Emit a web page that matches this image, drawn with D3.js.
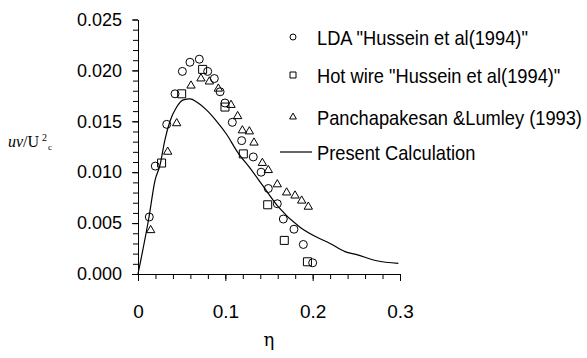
<!DOCTYPE html>
<html>
<head>
<meta charset="utf-8">
<script src="https://cdn.jsdelivr.net/npm/d3@7"></script>
<style>
    body { margin: 0; background: #fff; }
    .tick-text { font-family: "Liberation Sans", Arial, sans-serif; fill: #000; }
    .legend-text { font-family: "Liberation Sans", Arial, sans-serif; font-size: 21px; fill: #000; }
</style>
</head>
<body>
<div id="chart"></div>
<script>
// LDA "Hussein et al(1994)" - circles
const ldaEta = [0.0129, 0.0198, 0.0329, 0.0424, 0.0508, 0.0595, 0.0702, 0.0798, 0.0874, 0.094, 0.0996,
    0.108, 0.1187, 0.132, 0.141, 0.1492, 0.1595, 0.1664, 0.1786, 0.1893, 0.200];
const ldaUv = [0.0056, 0.0106, 0.0147, 0.0177, 0.0199, 0.0208, 0.0211, 0.0199, 0.0192, 0.0179, 0.0168,
    0.0149, 0.0131, 0.0115, 0.0100, 0.0084, 0.0069, 0.0054, 0.0044, 0.0029, 0.0011];

// Hot wire "Hussein et al(1994)" - squares
const hotEta = [0.027, 0.050, 0.074, 0.0996, 0.1206, 0.1485, 0.1675, 0.194];
const hotUv = [0.0109, 0.0177, 0.0201, 0.0164, 0.0118, 0.0068, 0.0033, 0.0012];

// Panchapakesan & Lumley (1993) - triangles
const plEta = [0.0145, 0.034, 0.0443, 0.0607, 0.0721, 0.0817, 0.092, 0.1065, 0.1141, 0.1195, 0.1275,
    0.1328, 0.1424, 0.1492, 0.1595, 0.1702, 0.1798, 0.1874, 0.195];
const plUv = [0.0043, 0.0120, 0.0148, 0.0185, 0.0192, 0.0189, 0.0182, 0.0166, 0.0155, 0.0141, 0.0140,
    0.0129, 0.0109, 0.0102, 0.0088, 0.0080, 0.0077, 0.0072, 0.0066];

// Present Calculation - line
const calcEta = [0, 0.0126, 0.0195, 0.0252, 0.0309, 0.0366, 0.0443, 0.0519, 0.0595, 0.0672, 0.0786,
    0.0901, 0.1016, 0.113, 0.130, 0.1435, 0.1607, 0.1855, 0.2027, 0.2199, 0.237, 0.2504, 0.2733, 0.2981];
const calcUv = [0, 0.0056, 0.0092, 0.0107, 0.0132, 0.0150, 0.0164, 0.0171, 0.0172, 0.0169, 0.0161,
    0.0150, 0.0137, 0.0121, 0.0102, 0.0086, 0.0066, 0.0046, 0.0037, 0.0030, 0.0022, 0.0019, 0.0013, 0.00105];

// Tick labels
const xTicks = [0, 0.1, 0.2, 0.3];
const xLabels = ["0", "0.1", "0.2", "0.3"];
const yTicks = [0, 0.005, 0.010, 0.015, 0.020, 0.025];
const yLabels = ["0.000", "0.005", "0.010", "0.015", "0.020", "0.025"];
const xMinor = d3.range(0, 0.3001, 0.02);
const yMinor = d3.range(0, 0.02501, 0.001);

const legendNames = ['LDA "Hussein et al(1994)"', 'Hot wire "Hussein et al(1994)"',
    "Panchapakesan &Lumley (1993)", "Present Calculation"];

function drawChart() {
    const width = 587;
    const height = 358;

    const svg = d3.select("#chart")
        .append("svg")
        .attr("width", width)
        .attr("height", height);

    const x = d3.scaleLinear().domain([0, 0.3]).range([138, 400]);
    const y = d3.scaleLinear().domain([0, 0.025]).range([274, 19.5]);

    // minor ticks first
    svg.append("g")
        .attr("transform", "translate(138,0)")
        .call(d3.axisLeft(y).tickValues(yMinor).tickSize(5).tickSizeOuter(0).tickFormat(""))
        .call(g => g.select(".domain").remove());

    svg.append("g")
        .attr("transform", "translate(0,274)")
        .call(d3.axisBottom(x).tickValues(xMinor).tickSize(5).tickSizeOuter(0).tickFormat(""))
        .call(g => g.select(".domain").remove());

    // y axis
    const yAxis = svg.append("g")
        .attr("transform", "translate(138,0)")
        .call(d3.axisLeft(y).tickValues(yTicks).tickSize(6).tickSizeOuter(0).tickPadding(10)
            .tickFormat((d, i) => yLabels[i]));
    yAxis.selectAll("text")
        .attr("class", "tick-text")
        .attr("font-size", "18px");

    // x axis
    const xAxis = svg.append("g")
        .attr("transform", "translate(0,274)")
        .call(d3.axisBottom(x).tickValues(xTicks).tickSize(7).tickSizeOuter(0).tickPadding(24)
            .tickFormat((d, i) => xLabels[i]));
    xAxis.selectAll("text")
        .attr("class", "tick-text")
        .attr("font-size", "19px");

    svg.selectAll("g path.domain, g line").attr("stroke", "#000");

    // calculation line
    const calc = calcEta.map((d, i) => [d, calcUv[i]]);
    svg.append("path")
        .datum(calc)
        .attr("fill", "none")
        .attr("stroke", "#000")
        .attr("stroke-width", 1.2)
        .attr("d", d3.line().x(d => x(d[0])).y(d => y(d[1])).curve(d3.curveMonotoneX));

    // markers
    const circleSym = d3.symbol().type(d3.symbolCircle).size(Math.PI * 16);
    const squareSym = d3.symbol().type(d3.symbolSquare).size(64);
    const triSym = d3.symbol().type(d3.symbolTriangle).size(30);

    function addMarkers(etas, vals, sym) {
        svg.append("g")
            .selectAll("path")
            .data(etas.map((d, i) => [d, vals[i]]))
            .enter()
            .append("path")
            .attr("transform", d => `translate(${x(d[0])},${y(d[1])})`)
            .attr("d", sym)
            .attr("fill", "none")
            .attr("stroke", "#000")
            .attr("stroke-width", 1);
    }
    addMarkers(ldaEta, ldaUv, circleSym);
    addMarkers(hotEta, hotUv, squareSym);
    addMarkers(plEta, plUv, triSym);

    // axis titles
    const yTitle = svg.append("text")
        .attr("x", 8)
        .attr("y", 147)
        .attr("fill", "#000")
        .attr("font-family", "'Liberation Serif', 'Times New Roman', serif");
    yTitle.append("tspan").attr("font-style", "italic").attr("font-size", "16px").text("uv");
    yTitle.append("tspan").attr("font-size", "16px").text("/U");
    yTitle.append("tspan").attr("font-size", "10px").attr("dx", 3).attr("dy", -6).text("2");
    yTitle.append("tspan").attr("font-size", "9px").attr("dx", 1).attr("dy", 9).text("c");

    svg.append("text")
        .attr("x", 269)
        .attr("y", 346)
        .attr("text-anchor", "middle")
        .attr("font-family", "'DejaVu Serif', serif")
        .attr("font-size", "18px")
        .attr("fill", "#000")
        .text("η");

    // legend
    const rows = [37, 75, 117, 152];
    const legendSyms = [
        d3.symbol().type(d3.symbolCircle).size(Math.PI * 9),
        d3.symbol().type(d3.symbolSquare).size(36),
        d3.symbol().type(d3.symbolTriangle).size(20)
    ];
    const legend = svg.append("g");
    legendSyms.forEach((s, i) => {
        legend.append("path")
            .attr("transform", `translate(293,${rows[i]})`)
            .attr("d", s)
            .attr("fill", "none")
            .attr("stroke", "#000");
    });
    legend.append("line")
        .attr("x1", 280).attr("x2", 312)
        .attr("y1", rows[3]).attr("y2", rows[3])
        .attr("stroke", "#000")
        .attr("stroke-width", 1.2);
    // the original legend font is condensed, so squeeze the text horizontally
    legendNames.forEach((name, i) => {
        legend.append("text")
            .attr("transform", `translate(317,${rows[i] + 7.5}) scale(0.87,1)`)
            .attr("class", "legend-text")
            .text(name);
    });
}

drawChart();
</script>
</body>
</html>
